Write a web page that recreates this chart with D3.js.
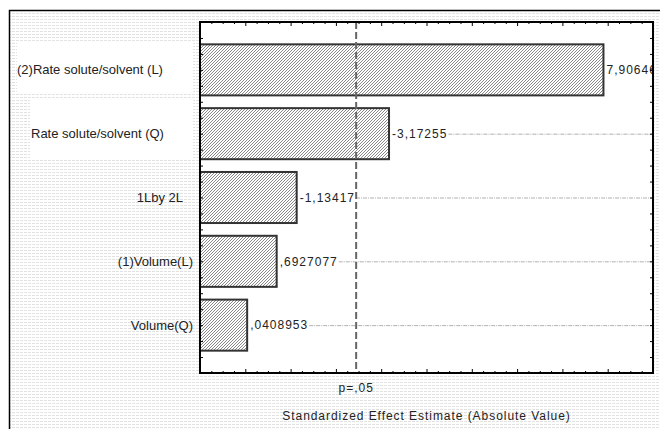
<!DOCTYPE html>
<html lang="en">
<head>
	<meta charset="utf-8">
	<title>Pareto chart of standardized effects</title>
	<script src="https://d3js.org/d3.v7.min.js"></script>
	<style>
		body { margin: 0; background: #fff; }
		text { font-family: "Liberation Sans", Arial, sans-serif; }
	</style>
</head>
<body>
	<div id="chart"></div>
	<script>
		// effect names, top to bottom
		const factors = ["(2)Rate solute/solvent (L)", "Rate solute/solvent (Q)", "1Lby 2L", "(1)Volume(L)", "Volume(Q)"];
		// standardized effect estimates (signed)
		const effects = [7.90646, -3.17255, -1.13417, 0.6927077, 0.0408953];
		// labels as printed next to the bars
		const effectLabels = ["7,90646", "-3,17255", "-1,13417", ",6927077", ",0408953"];
		// significance limit
		const pLimit = 2.447;
		const pLabel = "p=,05";
		const xTitle = "Standardized Effect Estimate (Absolute Value)";

		let width = 660, height = 429;
		let plotLeft = 200, plotTop = 22, plotRight = 653, plotBottom = 373;

		let svg = d3.select("#chart").append("svg")
			.attr("width", width)
			.attr("height", height);

		let defs = svg.append("defs");
		// striped window background
		let bg = defs.append("pattern")
			.attr("id", "stripes")
			.attr("patternUnits", "userSpaceOnUse")
			.attr("width", 4).attr("height", 3);
		bg.append("rect").attr("width", 4).attr("height", 3).attr("fill", "#fff");
		bg.append("rect").attr("y", 1).attr("width", 3).attr("height", 1).attr("fill", "#e2e2e2");
		// hatch for the bars
		let hatch = defs.append("pattern")
			.attr("id", "hatch")
			.attr("patternUnits", "userSpaceOnUse")
			.attr("width", 3).attr("height", 3);
		hatch.append("rect").attr("width", 3).attr("height", 3).attr("fill", "#fff");
		hatch.append("path")
			.attr("d", "M-1,1 L1,-1 M0,3 L3,0 M2,4 L4,2")
			.attr("stroke", "#7a7a7a")
			.attr("stroke-width", 0.9);
		defs.append("clipPath").attr("id", "plotClip")
			.append("rect").attr("x", plotLeft).attr("y", plotTop)
			.attr("width", plotRight - plotLeft).attr("height", plotBottom - plotTop);

		// background + window frame
		svg.append("rect")
			.attr("x", 10).attr("y", 11)
			.attr("width", width - 10).attr("height", height - 11)
			.attr("fill", "url(#stripes)");
		svg.append("path")
			.attr("d", "M9.5," + height + " V10.5 H" + width)
			.attr("fill", "none").attr("stroke", "#000").attr("stroke-width", 1.5);

		// white boxes behind the first two labels
		svg.append("rect").attr("x", 17).attr("y", 42).attr("width", 176).attr("height", 52).attr("fill", "#fff");
		svg.append("rect").attr("x", 30).attr("y", 99).attr("width", 163).attr("height", 59).attr("fill", "#fff");

		// plot area
		svg.append("rect")
			.attr("x", plotLeft).attr("y", plotTop)
			.attr("width", plotRight - plotLeft).attr("height", plotBottom - plotTop)
			.attr("fill", "#fff");

		let x = d3.scaleLinear().domain([-1, 9]).range([plotLeft, plotRight]);
		let y = d3.scaleLinear().domain([0.25, 5.75]).range([plotTop, plotBottom]);

		let data = factors.map((f, i) => ({ name: f, pos: i + 1, value: effects[i], label: effectLabels[i] }));

		let plot = svg.append("g").attr("clip-path", "url(#plotClip)");

		// bars start at the left edge of the axis
		let x0 = x.domain()[0];
		plot.selectAll("rect.bar")
			.data(data)
			.enter()
			.append("rect")
			.attr("class", "bar")
			.attr("x", x(x0))
			.attr("y", d => y(d.pos - 0.4))
			.attr("width", d => x(Math.abs(d.value)) - x(x0))
			.attr("height", d => y(d.pos + 0.4) - y(d.pos - 0.4))
			.attr("fill", "url(#hatch)")
			.attr("stroke", "#333")
			.attr("stroke-width", 2);

		// value labels and the dotted lines after them
		let vals = plot.selectAll("g.val")
			.data(data)
			.enter()
			.append("g")
			.attr("class", "val");
		vals.append("text")
			.attr("x", d => x(Math.abs(d.value)) + 3)
			.attr("y", d => y(d.pos))
			.attr("dy", ".35em")
			.style("font-size", "12px")
			.style("letter-spacing", "1px")
			.attr("fill", "#222")
			.text(d => d.label);
		vals.each(function(d) {
			let t = d3.select(this).select("text").node();
			let xs = x(Math.abs(d.value)) + 3 + t.getComputedTextLength() + 1;
			if (xs < plotRight) {
				d3.select(this).insert("line", "text")
					.attr("x1", xs).attr("x2", plotRight)
					.attr("y1", y(d.pos) + 0.5).attr("y2", y(d.pos) + 0.5)
					.attr("stroke", "#b0b0b0")
					.attr("stroke-dasharray", "4,1,1,1");
			}
		});

		// p = .05 line
		plot.append("line")
			.attr("x1", x(pLimit)).attr("x2", x(pLimit))
			.attr("y1", plotTop).attr("y2", plotBottom)
			.attr("stroke", "#666")
			.attr("stroke-width", 2)
			.attr("stroke-dasharray", "7,3");

		// ticks on all four sides, pointing inward
		let xMajor = d3.range(-1, 9.01, 1);
		let xMinor = d3.range(-1, 9.01, 0.25).filter(v => Math.abs(v - Math.round(v)) > 0.01);
		let yTicks = d3.range(0.5, 5.75, 0.25);
		function noLabels(g) {
			g.select(".domain").remove();
			g.selectAll("text").remove();
			g.selectAll("line").attr("stroke", "#000").attr("stroke-width", 1);
		}
		svg.append("g").attr("transform", `translate(0,${plotTop})`)
			.call(d3.axisTop(x).tickValues(xMajor).tickSize(-4)).call(noLabels);
		svg.append("g").attr("transform", `translate(0,${plotTop})`)
			.call(d3.axisTop(x).tickValues(xMinor).tickSize(-2)).call(noLabels);
		svg.append("g").attr("transform", `translate(0,${plotBottom})`)
			.call(d3.axisBottom(x).tickValues(xMajor).tickSize(-4)).call(noLabels);
		svg.append("g").attr("transform", `translate(0,${plotBottom})`)
			.call(d3.axisBottom(x).tickValues(xMinor).tickSize(-2)).call(noLabels);
		svg.append("g").attr("transform", `translate(${plotLeft},0)`)
			.call(d3.axisLeft(y).tickValues(yTicks).tickSize(-3)).call(noLabels);
		svg.append("g").attr("transform", `translate(${plotRight},0)`)
			.call(d3.axisRight(y).tickValues(yTicks).tickSize(-3)).call(noLabels);

		// plot frame
		svg.append("rect")
			.attr("x", plotLeft).attr("y", plotTop)
			.attr("width", plotRight - plotLeft).attr("height", plotBottom - plotTop)
			.attr("fill", "none")
			.attr("stroke", "#000")
			.attr("stroke-width", 2);

		// category labels
		svg.selectAll("text.cat")
			.data(data)
			.enter()
			.append("text")
			.attr("class", "cat")
			.attr("x", (d, i) => i == 0 ? 17 : i == 1 ? 31 : i == 2 ? 183 : 193)
			.attr("y", d => y(d.pos))
			.attr("dy", ".35em")
			.attr("text-anchor", (d, i) => i < 2 ? "start" : "end")
			.style("font-size", "13px")
			.attr("fill", "#222")
			.text(d => d.name);

		// p label and axis title
		svg.append("text")
			.attr("x", x(pLimit))
			.attr("y", 392)
			.attr("text-anchor", "middle")
			.style("font-size", "12px")
			.style("letter-spacing", "1px")
			.attr("fill", "#222")
			.text(pLabel);
		svg.append("text")
			.attr("x", (plotLeft + plotRight) / 2)
			.attr("y", 420)
			.attr("text-anchor", "middle")
			.style("font-size", "12px")
			.style("letter-spacing", "0.95px")
			.attr("fill", "#222")
			.text(xTitle);
	</script>
</body>
</html>
